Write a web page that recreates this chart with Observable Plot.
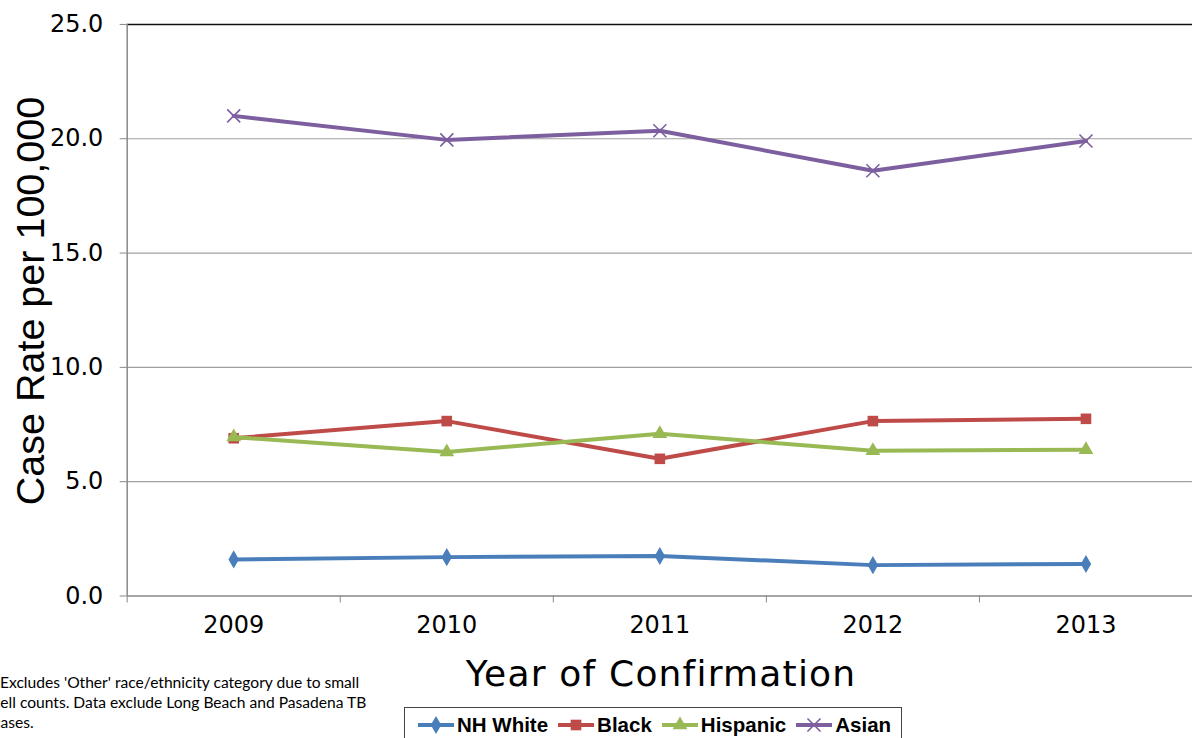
<!DOCTYPE html>
<html>
<head>
<meta charset="utf-8">
<script src="https://cdn.jsdelivr.net/npm/d3@7"></script>
<script src="https://cdn.jsdelivr.net/npm/@observablehq/plot@0.6"></script>
<style>
  html, body { margin: 0; padding: 0; background: #fff; overflow: hidden; }
  #wrap { position: relative; width: 1192px; height: 738px; overflow: hidden; }
  #chart { position: absolute; left: 0; top: 0; }
  #ytitle { position: absolute; left: 30px; top: 301px; transform: translate(-50%, -50%) rotate(-90deg);
    font: 39.5px "Liberation Sans", Arial, sans-serif; white-space: nowrap; color: #000; }
  #xtitle { position: absolute; left: 661px; top: 673px; transform: translate(-50%, -50%);
    font: 36px "DejaVu Sans", sans-serif; letter-spacing: 1.2px; white-space: nowrap; color: #000; }
  #note { position: absolute; left: -7px; top: 672px; width: 440px; font: 15.6px Lato, sans-serif;
    line-height: 20px; color: #000; white-space: nowrap; }
  #note div:first-child { padding-left: 7px; }
  #legend { position: absolute; left: 404px; top: 707px; width: 498px; height: 40px;
    border: 1.5px solid #444; box-sizing: border-box; display: flex; align-items: flex-start;
    padding-top: 4px; padding-left: 12px; white-space: nowrap;
    font: bold 20.5px "Liberation Sans", Arial, sans-serif; color: #000; }
  .item { display: flex; align-items: center; margin-right: 9px; flex-shrink: 0; white-space: nowrap; }
  .item svg { margin-right: 2px; flex-shrink: 0; }
</style>
</head>
<body>
<div id="wrap">
  <div id="chart"></div>
  <div id="ytitle">Case Rate per 100,000</div>
  <div id="xtitle">Year of Confirmation</div>
  <div id="note">
    <div>Excludes 'Other' race/ethnicity category due to small</div>
    <div>cell counts. Data exclude Long Beach and Pasadena TB</div>
    <div>cases.</div>
  </div>
  <div id="legend"></div>
</div>
<script>
const years = [2009, 2010, 2011, 2012, 2013];
const seriesNames = ["NH White", "Black", "Hispanic", "Asian"];
const nhWhite  = [1.6, 1.7, 1.75, 1.35, 1.4];
const black    = [6.9, 7.65, 6.0, 7.65, 7.75];
const hispanic = [6.95, 6.3, 7.1, 6.35, 6.4];
const asian    = [21.0, 19.95, 20.35, 18.6, 19.9];
const yTicks = [0, 5, 10, 15, 20, 25];

const colors = {"NH White": "#4a7ebb", "Black": "#be4b48", "Hispanic": "#98b954", "Asian": "#7d5fa0"};
const symbols = {"NH White": "diamond", "Black": "square", "Hispanic": "triangle", "Asian": "times"};
const radii = {"NH White": 5.5, "Black": 6, "Hispanic": 5.5, "Asian": 6};
const valuesBy = {"NH White": nhWhite, "Black": black, "Hispanic": hispanic, "Asian": asian};

const data = seriesNames.flatMap(s => years.map((y, i) => ({series: s, year: y, value: valuesBy[s][i]})));
const boundaries = d3.range(years.length + 1).map(i => years[0] - 0.5 + i);

const marks = [
  Plot.ruleY(yTicks.filter(t => t > 0 && t < 25), {stroke: "#a0a0a0", strokeWidth: 1.2}),
  Plot.ruleY([25], {stroke: "#111", strokeWidth: 1.5}),
  Plot.axisY({ticks: yTicks, tickFormat: d3.format(".1f"), tickSize: 7, tickPadding: 17,
    stroke: "#888", fontSize: 24, fontFamily: "DejaVu Sans", label: null}),
  Plot.ruleX([years[0] - 0.5], {stroke: "#888", strokeWidth: 1.5}),
  Plot.ruleY([0], {stroke: "#888", strokeWidth: 1.5}),
  Plot.axisX({ticks: boundaries, tickSize: 7, tickFormat: () => "", stroke: "#888", label: null}),
  Plot.axisX({ticks: years, tickSize: 0, tickPadding: 20, tickFormat: d => String(d),
    fontSize: 24, fontFamily: "DejaVu Sans", label: null})
];
for (const s of seriesNames) {
  const rows = data.filter(d => d.series === s);
  marks.push(Plot.line(rows, {x: "year", y: "value", stroke: colors[s], strokeWidth: 4}));
  if (symbols[s] === "times") {
    marks.push(Plot.dot(rows, {x: "year", y: "value", symbol: "times", r: radii[s], stroke: colors[s], strokeWidth: 1.6}));
  } else {
    marks.push(Plot.dot(rows, {x: "year", y: "value", symbol: symbols[s], r: radii[s], fill: colors[s], stroke: "none"}));
  }
}

const chart = Plot.plot({
  width: 1195,
  height: 650,
  marginLeft: 127,
  marginRight: 0,
  marginTop: 24,
  marginBottom: 53,
  style: {background: "#fff", color: "#000", overflow: "visible"},
  x: {domain: [years[0] - 0.5, years[years.length - 1] + 0.5]},
  y: {domain: [0, 25]},
  marks
});
document.getElementById("chart").appendChild(chart);

// Legend
const legend = document.getElementById("legend");
for (const s of seriesNames) {
  const item = document.createElement("div");
  item.className = "item";
  const sv = d3.create("svg").attr("width", 38).attr("height", 26);
  sv.append("line").attr("x1", 1).attr("x2", 37).attr("y1", 13).attr("y2", 13)
    .attr("stroke", colors[s]).attr("stroke-width", 4);
  const symType = {diamond: d3.symbolDiamond, square: d3.symbolSquare, triangle: d3.symbolTriangle, times: d3.symbolTimes}[symbols[s]];
  const p = sv.append("path").attr("transform", "translate(19,13)")
    .attr("d", d3.symbol(symType, Math.PI * radii[s] * radii[s])());
  if (symbols[s] === "times") p.attr("fill", "none").attr("stroke", colors[s]).attr("stroke-width", 1.6);
  else p.attr("fill", colors[s]);
  item.appendChild(sv.node());
  const t = document.createElement("span");
  t.textContent = s;
  item.appendChild(t);
  legend.appendChild(item);
}
</script>
</body>
</html>
